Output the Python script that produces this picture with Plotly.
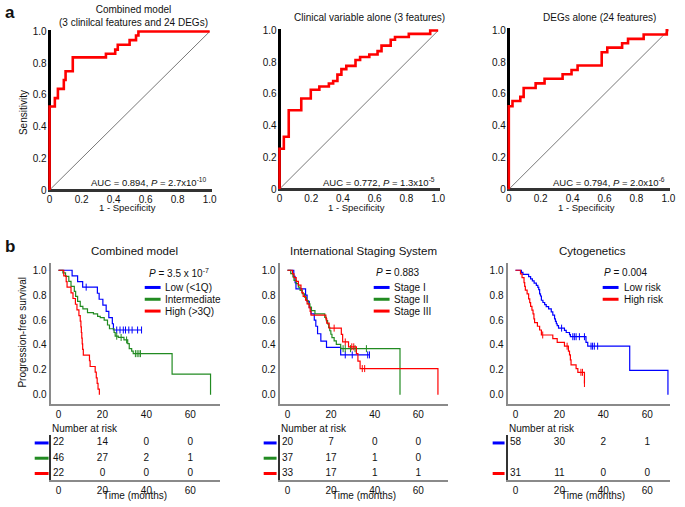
import plotly.graph_objects as go

W, H = 685, 507
FONT = "Liberation Sans, Arial, sans-serif"

# ---------------- ROC data (panel a) ----------------
roc_titles = ["Combined model<br>(3 clinilcal features and 24 DEGs)",
              "Clinical variable alone (3 features)",
              "DEGs alone (24 features)"]
roc_auc_texts = ["AUC = 0.894, <i>P</i> = 2.7x10<sup>-10</sup>",
                 "AUC = 0.772, <i>P</i> = 1.3x10<sup>-5</sup>",
                 "AUC = 0.794, <i>P</i> = 2.0x10<sup>-6</sup>"]
roc1_fpr = [0, 0, 0.033, 0.052, 0.089, 0.10, 0.145, 0.352, 0.41, 0.426, 0.50, 0.54, 0.555, 1.0]
roc1_tpr = [0, 0.527, 0.58, 0.638, 0.694, 0.75, 0.837, 0.86, 0.886, 0.917, 0.946, 0.975, 1.0, 1.0]
roc2_fpr = [0, 0, 0.027, 0.058, 0.137, 0.197, 0.251, 0.311, 0.338, 0.365, 0.39, 0.421, 0.479,
            0.508, 0.566, 0.618, 0.643, 0.701, 0.728, 0.815, 0.95, 1.0]
roc2_tpr = [0, 0.254, 0.33, 0.497, 0.571, 0.627, 0.647, 0.666, 0.682, 0.722, 0.757, 0.777, 0.814,
            0.833, 0.849, 0.87, 0.905, 0.942, 0.959, 0.979, 1.0, 1.0]
roc3_fpr = [0, 0, 0.023, 0.072, 0.093, 0.168, 0.224, 0.337, 0.393, 0.431, 0.582, 0.617, 0.71,
            0.747, 0.845, 0.99, 1.0]
roc3_tpr = [0, 0.522, 0.555, 0.581, 0.637, 0.666, 0.695, 0.724, 0.75, 0.779, 0.862, 0.891, 0.918,
            0.946, 0.973, 1.0, 1.0]
roc_ticks = [0, 0.2, 0.4, 0.6, 0.8, 1.0]
roc_ticktext = ["0", "0.2", "0.4", "0.6", "0.8", "1.0"]

# ---------------- Kaplan-Meier data (panel b) ----------------
km_titles = ["Combined model", "International Staging System", "Cytogenetics"]
km_pvals = ["<i>P</i> = 3.5 x 10<sup>-7</sup>", "<i>P</i> = 0.883", "<i>P</i> = 0.004"]
km1_labels = ["Low (&lt;1Q)", "Intermediate", "High (&gt;3Q)"]
km2_labels = ["Stage I", "Stage II", "Stage III"]
km3_labels = ["Low risk", "High risk"]

km1_low_t = [6.2, 8.7, 11.0, 17.7, 18.5, 20.2, 21.7, 22.9, 24.5, 25.0]
km1_low_s = [0.955, 0.909, 0.864, 0.815, 0.767, 0.72, 0.67, 0.62, 0.57, 0.52]
km1_low_c = [12.6, 26.5, 28.0, 29.5, 30.5, 32.0, 33.5, 36.0, 37.8]
km1_low_end = 37.8
km1_int_t = [2.0, 3.2, 4.7, 5.7, 7.2, 7.8, 8.7, 9.9, 11.1, 13.2, 15.9, 17.8, 19.0, 20.8, 22.3, 23.2,
             25.3, 25.8, 27.2, 29.8, 31.5, 32.2, 33.3, 34.0, 51.7, 69.2]
km1_int_s = [0.978, 0.95, 0.91, 0.87, 0.83, 0.79, 0.75, 0.71, 0.69, 0.66, 0.65, 0.63, 0.62, 0.60, 0.56,
             0.53, 0.50, 0.47, 0.46, 0.44, 0.41, 0.37, 0.35, 0.33, 0.165, 0.0]
km1_int_c = [26.5, 28.5, 31.0, 35.0, 35.8, 36.6, 37.3]
km1_int_end = 69.2
km1_high_t = [2.4, 3.5, 3.9, 5.7, 6.6, 7.7, 8.4, 9.3, 9.9, 10.2, 10.4, 10.6, 10.8, 11.0, 11.3,
              14.1, 14.4, 16.7, 17.2, 17.6, 18.0, 18.6]
km1_high_s = [0.955, 0.909, 0.864, 0.818, 0.773, 0.727, 0.682, 0.636, 0.591, 0.545, 0.50, 0.455,
              0.409, 0.364, 0.318, 0.273, 0.227, 0.182, 0.136, 0.091, 0.045, 0.0]
km1_high_c = []
km1_high_end = 18.6

km2_s1_t = [2.9, 3.5, 3.9, 8.3, 9.0, 10.0, 10.8, 12.3, 13.0, 13.8, 15.3, 17.9, 24.4]
km2_s1_s = [0.95, 0.90, 0.85, 0.80, 0.75, 0.70, 0.65, 0.60, 0.55, 0.49, 0.43, 0.38, 0.32]
km2_s1_c = [26.5, 29.7, 36.8, 37.6]
km2_s1_end = 37.6
km2_s2_t = [1.5, 2.5, 3.0, 4.0, 5.0, 5.8, 6.8, 7.8, 8.7, 9.5, 10.3, 11.0, 12.6, 17.1, 17.8, 18.4,
            18.9, 19.4, 19.9, 20.4, 21.4, 22.4, 24.4, 51.6]
km2_s2_s = [0.973, 0.946, 0.919, 0.892, 0.865, 0.838, 0.811, 0.784, 0.757, 0.730, 0.703, 0.676,
            0.649, 0.622, 0.595, 0.568, 0.541, 0.514, 0.486, 0.459, 0.432, 0.405, 0.37, 0.0]
km2_s2_c = [25.5, 26.5, 28.9, 31.0, 36.2]
km2_s2_end = 51.6
km2_s3_t = [2.3, 3.0, 4.0, 5.0, 6.2, 6.6, 7.2, 8.3, 9.0, 9.9, 10.4, 10.8, 17.6, 18.0, 19.1, 24.7,
            25.3, 28.0, 31.6, 32.3, 33.3, 69.0]
km2_s3_s = [0.97, 0.94, 0.91, 0.88, 0.85, 0.82, 0.79, 0.76, 0.73, 0.70, 0.67, 0.64, 0.61, 0.575,
            0.535, 0.485, 0.424, 0.385, 0.33, 0.27, 0.21, 0.0]
km2_s3_c = [21.4, 26.5, 29.5, 30.4, 34.3, 35.4]
km2_s3_end = 69.0

km3_low_t = [2.7, 3.4, 6.0, 6.9, 7.7, 8.5, 9.5, 10.2, 10.6, 11.0, 11.4, 11.8, 12.5, 13.3, 14.0, 15.1,
             16.3, 17.0, 17.8, 18.2, 18.6, 19.0, 19.6, 22.3, 23.1, 24.6, 25.0, 32.1, 32.9, 52.0, 69.4]
km3_low_s = [0.983, 0.966, 0.948, 0.931, 0.914, 0.897, 0.879, 0.862, 0.845, 0.81, 0.793, 0.759,
             0.741, 0.724, 0.707, 0.69, 0.665, 0.64, 0.61, 0.59, 0.57, 0.555, 0.535, 0.517, 0.50,
             0.483, 0.466, 0.42, 0.39, 0.195, 0.0]
km3_low_c = [21.0, 26.1, 26.8, 27.6, 29.1, 31.4, 34.4, 35.1, 35.9, 37.4]
km3_low_end = 69.4
km3_high_t = [2.3, 3.0, 3.9, 4.2, 4.5, 5.3, 6.0, 6.5, 6.9, 7.5, 8.0, 8.4, 8.7, 10.0, 11.0, 11.8,
              17.0, 19.0, 22.3, 24.1, 24.6, 25.0, 25.3, 27.6, 28.4, 31.4]
km3_high_s = [0.97, 0.94, 0.90, 0.87, 0.84, 0.81, 0.77, 0.74, 0.71, 0.68, 0.65, 0.61, 0.58, 0.55,
              0.52, 0.48, 0.45, 0.42, 0.39, 0.35, 0.32, 0.28, 0.24, 0.21, 0.18, 0.09]
km3_high_c = [12.4, 23.5, 29.8, 30.5, 31.4]
km3_high_end = 31.4

risk_times = [0, 20, 40, 60]
km1_risk = [[22, 14, 0, 0], [46, 27, 2, 1], [22, 0, 0, 0]]
km2_risk = [[20, 7, 0, 0], [37, 17, 1, 0], [33, 17, 1, 1]]
km3_risk = [[58, 30, 2, 1], [31, 11, 0, 0]]

BLUE, GREEN, RED = "#0000ff", "#228b22", "#ff0000"

# ---------------- helpers ----------------
def xdom(p_a, p_b, v_a, v_b, r0, r1):
    sc = (p_b - p_a) / (v_b - v_a)
    return [(p_a + (r0 - v_a) * sc) / W, (p_a + (r1 - v_a) * sc) / W]

def ydom(p_a, p_b, v_a, v_b, r0, r1):
    sc = (p_b - p_a) / (v_b - v_a)
    return [1 - (p_a + (r0 - v_a) * sc) / H, 1 - (p_a + (r1 - v_a) * sc) / H]

def px(x):
    return x / W

def py(y):
    return 1 - y / H

fig = go.Figure()
annotations = []
shapes = []

def ann(text, x, y, size=10, xanchor="center", yanchor="middle", angle=0, bold=False):
    annotations.append(dict(text=("<b>%s</b>" % text) if bold else text, x=px(x), y=py(y),
                            xref="paper", yref="paper", showarrow=False, xanchor=xanchor,
                            yanchor=yanchor, textangle=angle,
                            font=dict(family=FONT, size=size, color="#111")))

def hline(x0, x1, y, color, width=3):
    shapes.append(dict(type="line", xref="paper", yref="paper", x0=px(x0), x1=px(x1),
                       y0=py(y), y1=py(y), line=dict(color=color, width=width)))

layout = {}

# ---------------- ROC panels ----------------
roc_data = [(roc1_fpr, roc1_tpr), (roc2_fpr, roc2_tpr), (roc3_fpr, roc3_tpr)]
roc_px = [(49, 210.5, 189, 28), (281, 441, 188, 27), (512.3, 673.3, 188.3, 26.7)]
RR = [-0.012, 1.012]
for i in range(3):
    n = i + 1
    xa, ya = ("x" if n == 1 else "x%d" % n), ("y" if n == 1 else "y%d" % n)
    x0p, x1p, y0p, y1p = roc_px[i]
    layout["xaxis" if n == 1 else "xaxis%d" % n] = dict(
        domain=xdom(x0p, x1p, 0, 1, RR[0], RR[1]), range=RR, anchor=ya,
        showgrid=False, showline=False, zeroline=True, zerolinecolor="#000", zerolinewidth=3,
        tickvals=roc_ticks, ticktext=roc_ticktext, ticks="",
        tickfont=dict(family=FONT, size=10, color="#111"))
    layout["yaxis" if n == 1 else "yaxis%d" % n] = dict(
        domain=ydom(y0p, y1p, 0, 1, RR[0], RR[1]), range=RR, anchor=xa,
        showgrid=False, showline=False, zeroline=True, zerolinecolor="#333", zerolinewidth=2.5,
        tickvals=roc_ticks, ticktext=roc_ticktext, ticks="",
        tickfont=dict(family=FONT, size=10, color="#111"))
    fig.add_trace(go.Scatter(x=[0, 1], y=[0, 1], mode="lines", xaxis=xa, yaxis=ya,
                             line=dict(color="#555", width=0.8), hoverinfo="skip"))
    fx, ty = roc_data[i]
    fig.add_trace(go.Scatter(x=fx, y=ty, mode="lines", xaxis=xa, yaxis=ya,
                             line=dict(color=RED, width=2.6, shape="hv")))
    ann(roc_auc_texts[i], x1p - 1, 181, size=9.5, xanchor="right")
    ann("1 - Specificity", (x0p + x1p) / 2 - 2, 207, size=9.5)

ann(roc_titles[0], 134, 12, size=10)
ann(roc_titles[1], 372, 14, size=10)
ann(roc_titles[2], 604, 14, size=10)
ann("Sensitivity", 22, 110, size=10, angle=-90)
ann("a", 9, 9, size=17, bold=True)
ann("b", 9, 246, size=17, bold=True)

# ---------------- KM panels ----------------
def km_y(times, surv, c):
    v = 1.0
    for t, s in zip(times, surv):
        if t <= c:
            v = s
    return v

km_sets = [
    [(km1_low_t, km1_low_s, km1_low_c, km1_low_end, BLUE),
     (km1_int_t, km1_int_s, km1_int_c, km1_int_end, GREEN),
     (km1_high_t, km1_high_s, km1_high_c, km1_high_end, RED)],
    [(km2_s1_t, km2_s1_s, km2_s1_c, km2_s1_end, BLUE),
     (km2_s2_t, km2_s2_s, km2_s2_c, km2_s2_end, GREEN),
     (km2_s3_t, km2_s3_s, km2_s3_c, km2_s3_end, RED)],
    [(km3_low_t, km3_low_s, km3_low_c, km3_low_end, BLUE),
     (km3_high_t, km3_high_s, km3_high_c, km3_high_end, RED)],
]
km_labels = [km1_labels, km2_labels, km3_labels]
km_colors = [[BLUE, GREEN, RED], [BLUE, GREEN, RED], [BLUE, RED]]
km_risks = [km1_risk, km2_risk, km3_risk]
# pixel geometry: (t=0 px, t=60 px, axis left px, axis right px)
km_px = [(58, 191, 50, 221), (289, 421, 281, 451), (519, 652, 511, 675)]
km_title_x = [135, 366, 597]
km_leg = [(145, 161, 163, 147), (376, 392, 394, 376), (607, 623, 626, 606)]
km_dash = [(34, 48), (265, 278), (496, 508)]
KY = [-0.071, 1.059]
for i in range(3):
    n = 4 + i
    nt = 7 + i
    xa, ya = "x%d" % n, "y%d" % n
    xt, yt = "x%d" % nt, "y%d" % nt
    t0, t60, al, ar = km_px[i]
    sc = (t60 - t0) / 60.0
    xr = [(al - t0) / sc, (ar - t0) / sc]
    xd = [al / W, ar / W]
    layout["xaxis%d" % n] = dict(domain=xd, range=xr, anchor=ya, showgrid=False, zeroline=False,
                                 showline=True, linecolor="#8a8a8a", linewidth=2,
                                 tickvals=risk_times, ticks="",
                                 tickfont=dict(family=FONT, size=10, color="#111"))
    layout["yaxis%d" % n] = dict(domain=ydom(397, 270.5, 0, 1, KY[0], KY[1]), range=KY, anchor=xa,
                                 showgrid=False, zeroline=False, showline=True,
                                 linecolor="#8a8a8a", linewidth=2,
                                 tickvals=[0, 0.2, 0.4, 0.6, 0.8, 1.0],
                                 ticktext=["0.0", "0.2", "0.4", "0.6", "0.8", "1.0"], ticks="",
                                 tickfont=dict(family=FONT, size=10, color="#111"))
    for (tt, ss, cc, end, col) in km_sets[i]:
        xs = [0] + list(tt)
        ys = [1.0] + list(ss)
        if end > xs[-1]:
            xs.append(end)
            ys.append(ys[-1])
        fig.add_trace(go.Scatter(x=xs, y=ys, mode="lines", xaxis=xa, yaxis=ya,
                                 line=dict(color=col, width=1.2, shape="hv")))
        if cc:
            fig.add_trace(go.Scatter(x=cc, y=[km_y(tt, ss, c) for c in cc], mode="markers",
                                     xaxis=xa, yaxis=ya,
                                     marker=dict(symbol="line-ns-open", size=5, color=col,
                                                 line=dict(color=col, width=1))))
    ann(km_titles[i], km_title_x[i], 251, size=11.5)
    # legend
    lx0, lx1, ltx, lpx = km_leg[i]
    ann(km_pvals[i], lpx, 273, size=10, xanchor="left")
    for j, lab in enumerate(km_labels[i]):
        yy = 288 + j * 12
        hline(lx0, lx1, yy, km_colors[i][j], width=3)
        ann(lab, ltx, yy, size=10, xanchor="left")

    # risk table
    TY = [-0.45, 2.55]
    layout["xaxis%d" % nt] = dict(domain=xd, range=xr, anchor=yt, showgrid=False, zeroline=False,
                                  showline=True, linecolor="#8a8a8a", linewidth=2,
                                  tickvals=risk_times, ticks="",
                                  tickfont=dict(family=FONT, size=10, color="#111"))
    layout["yaxis%d" % nt] = dict(domain=ydom(477, 446, 0, 2, TY[0], TY[1]), range=TY, anchor=xt,
                                  showgrid=False, zeroline=False, showline=True,
                                  linecolor="#333", linewidth=2, showticklabels=False, ticks="")
    risk = km_risks[i]
    rows = [2, 1, 0] if len(risk) == 3 else [2, 0]
    for j, r in enumerate(risk):
        fig.add_trace(go.Scatter(x=risk_times, y=[rows[j]] * len(risk_times), mode="text",
                                 text=[str(v) for v in r], xaxis=xt, yaxis=yt,
                                 textfont=dict(family=FONT, size=10, color="#111"),
                                 cliponaxis=False))
        ypx = 477 - rows[j] * 15.5
        hline(km_dash[i][0], km_dash[i][1], ypx, km_colors[i][j], width=3)
    ann("Number at risk", al - 1, 431, size=10, xanchor="left")
    ann("Time (months)", km_title_x[i], 507, size=10, yanchor="bottom")

ann("Progression-free survival", 22, 333, size=10, angle=-90)

fig.update_layout(width=W, height=H, margin=dict(l=0, r=0, t=0, b=0),
                  paper_bgcolor="white", plot_bgcolor="white", showlegend=False,
                  annotations=annotations, shapes=shapes, **layout)
fig.write_html("out.html", config={"displayModeBar": False},
               post_script="document.body.style.margin='0';document.body.style.padding='0';"
                           "document.body.style.overflow='hidden';")
